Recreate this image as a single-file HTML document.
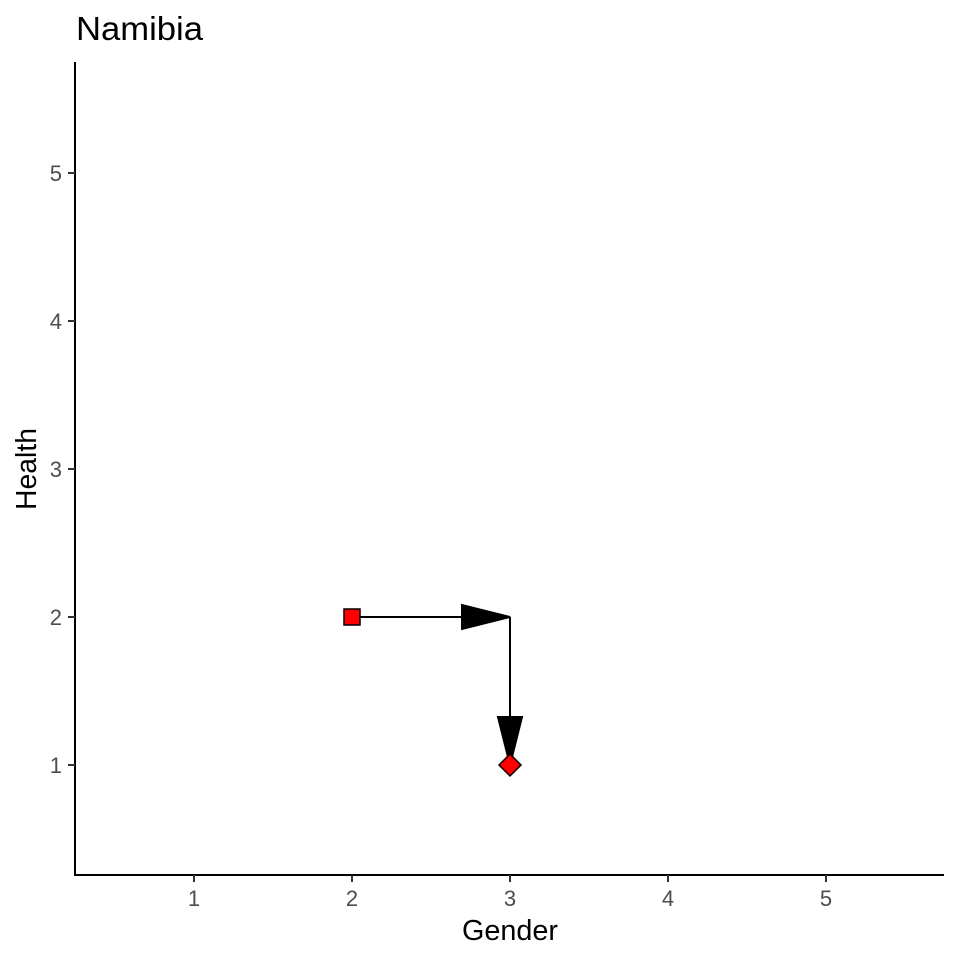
<!DOCTYPE html>
<html><head><meta charset="utf-8"><style>
body{margin:0;background:#fff;}
svg text{font-family:"Liberation Sans",Arial,sans-serif;}
</style></head><body>
<svg id="chart" width="960" height="960" xmlns="http://www.w3.org/2000/svg">
<text x="76" y="40" font-size="33" textLength="127" lengthAdjust="spacingAndGlyphs" fill="#000">Namibia</text>
<g id="axes"></g>
<g id="marks"></g>
<text x="510" y="940" font-size="29" text-anchor="middle" textLength="96" lengthAdjust="spacingAndGlyphs" fill="#000">Gender</text>
<text transform="translate(36,469) rotate(-90)" font-size="29" text-anchor="middle" textLength="82" lengthAdjust="spacingAndGlyphs" fill="#000">Health</text>
</svg>
<script>
const xTicks=[1,2,3,4,5];
const yTicks=[1,2,3,4,5];
const pathX=[2,3,3];
const pathY=[2,2,1];
const pointX=[2,3];
const pointY=[2,1];
const pointShape=["square","diamond"];
const NS="http://www.w3.org/2000/svg";
function sx(v){return 194+(v-1)*158;}
function sy(v){return 765-(v-1)*148;}
function mk(tag,attrs,parent){const e=document.createElementNS(NS,tag);for(const k in attrs)e.setAttribute(k,attrs[k]);parent.appendChild(e);return e;}
const axes=document.getElementById('axes');
const marks=document.getElementById('marks');
let yl=mk('line',{x1:75,y1:62,x2:75,y2:876,stroke:'#000','stroke-width':2},axes);


let xl=mk('line',{x1:74,y1:875,x2:944,y2:875,stroke:'#000','stroke-width':2},axes);


xTicks.forEach(t=>{
 const l=mk('line',{x1:sx(t),y1:875,x2:sx(t),y2:882,stroke:'#333','stroke-width':2},axes);
 
 
 const tx=mk('text',{x:sx(t),y:906,'font-size':22,'text-anchor':'middle',fill:'#4d4d4d'},axes);
 tx.textContent=t;
 
 
});
yTicks.forEach(t=>{
 const l=mk('line',{x1:68,y1:sy(t),x2:75,y2:sy(t),stroke:'#333','stroke-width':2},axes);
 
 
 const tx=mk('text',{x:62,y:sy(t)+8,'font-size':22,'text-anchor':'end',fill:'#4d4d4d'},axes);
 tx.textContent=t;
 
 
});
for(let i=0;i<pathX.length-1;i++){
 const x1=sx(pathX[i]),y1=sy(pathY[i]),x2=sx(pathX[i+1]),y2=sy(pathY[i+1]);
 const s=mk('line',{x1:x1,y1:y1,x2:x2,y2:y2,stroke:'#000','stroke-width':2},marks);
 
 
 const dx=x2-x1,dy=y2-y1,len=Math.hypot(dx,dy),ux=dx/len,uy=dy/len,L=48,W=12;
 const bx=x2-ux*L,by=y2-uy*L;
 const p=mk('polygon',{points:`${x2},${y2} ${bx-uy*W},${by+ux*W} ${bx+uy*W},${by-ux*W}`,fill:'#000',stroke:'#000','stroke-width':2},marks);
 
 
}
pointX.forEach((v,i)=>{
 const cx=sx(v),cy=sy(pointY[i]);
 let e;
 if(pointShape[i]==='square'){
  e=mk('rect',{x:cx-8,y:cy-8,width:16,height:16,fill:'#ff0000',stroke:'#000','stroke-width':1.5},marks);
 }else{
  e=mk('polygon',{points:`${cx},${cy-11} ${cx+11},${cy} ${cx},${cy+11} ${cx-11},${cy}`,fill:'#ff0000',stroke:'#000','stroke-width':1.5},marks);
 }
 
 
});
</script>
</body></html>
